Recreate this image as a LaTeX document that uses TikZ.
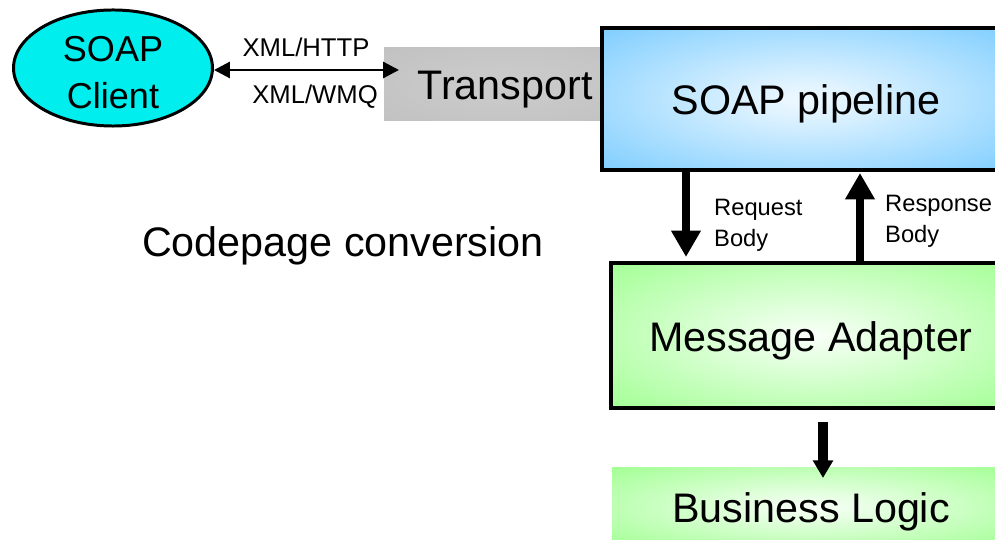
\documentclass[tikz,border=0pt]{standalone}
\usepackage{fontspec}
\setmainfont{Liberation Sans}
\usetikzlibrary{shapes.geometric,arrows.meta}

\definecolor{clientcyan}{RGB}{0,238,238}
\definecolor{pipeblue}{RGB}{112,200,255}
\definecolor{adaptgreen}{RGB}{152,255,136}
\definecolor{transgray}{RGB}{192,192,192}

\pgfdeclareradialshading{blueglow}{\pgfpointorigin}{color(0bp)=(white!88!pipeblue); color(6bp)=(white!78!pipeblue); color(40bp)=(pipeblue); color(50bp)=(pipeblue)}
\pgfdeclareradialshading{greenglow}{\pgfpointorigin}{color(0bp)=(white!95!adaptgreen); color(6bp)=(white!80!adaptgreen); color(40bp)=(adaptgreen); color(50bp)=(adaptgreen)}
\pgfdeclareradialshading{grayglow}{\pgfpointorigin}{color(0bp)=(white!20!transgray); color(40bp)=(transgray); color(50bp)=(transgray)}

\tikzset{
	big/.style={font=\fontsize{23.5}{28}\selectfont, text height=23pt, text depth=5pt},
	small/.style={font=\fontsize{13.5}{17.6}\selectfont, align=left},
	proto/.style={font=\fontsize{14.6}{17.6}\selectfont},
	box/.style={rectangle, draw=black, line width=2.3pt, inner sep=0pt},
	dblarrow/.style={line width=1.7pt, {Triangle[length=9pt,width=9pt]}-{Triangle[length=9pt,width=9pt]}},
	fatarrow/.style={line width=5.1pt, -{Triangle[length=15pt,width=16pt]}},
	slimarrow/.style={line width=5.6pt, -{Triangle[length=10pt,width=11pt]}},
}

\begin{document}
\begin{tikzpicture}[x=0.02cm,y=-0.02cm]
	\useasboundingbox (0,0) rectangle (995,540);
	%%%% Client
	\node[ellipse, draw=black, line width=1.7pt, fill=clientcyan, minimum width=3.98cm, minimum height=2.2cm, inner sep=0pt, align=center, font=\fontsize{20.5}{27}\selectfont] (client) at (113,68) {\rule{0pt}{19.5pt}SOAP\\Client};
	%%%% Transport
	\node[rectangle, shading=grayglow, minimum width=4.84cm, minimum height=1.48cm, inner sep=0pt, big] (transport) at (505,84) {Transport};
	% Pfeil Client - Transport
	\coordinate (xmlend) at (399,70);
	\draw[dblarrow] (client.east |- xmlend) -- (xmlend);
	\node[proto] (http) at (306,47) {XML/HTTP};
	\node[proto] (wmq) at (315,97) {XML/WMQ};
	%%%% SOAP pipeline
	\node[box, shading=blueglow, minimum width=8.16cm, minimum height=2.84cm, big] (pipeline) at (806,99) {SOAP pipeline};
	%%%% Message Adapter
	\node[box, shading=greenglow, minimum width=8cm, minimum height=2.9cm, big] (adapter) at (811,335.5) {Message Adapter};
	%%%% Business Logic
	\node[rectangle, shading=greenglow, minimum width=7.96cm, minimum height=1.58cm, inner sep=0pt, big] (business) at (811,506.5) {Business Logic};
	% Request / Response
	\coordinate (reqend) at (686,257);
	\coordinate (resend) at (860,173);
	\draw[fatarrow] (pipeline.south -| reqend) -- (reqend);
	\draw[fatarrow] (adapter.north -| resend) -- (resend);
	\node[small, anchor=west] (reqlbl) at (708,225) {Request\\Body};
	\node[small, anchor=west] (reslbl) at (879,221) {Response\\Body};
	% Adapter - Business Logic
	\coordinate (blend) at (823,478);
	\draw[slimarrow, shorten <=6.8pt] (adapter.south -| blend) -- (blend);
	%%%% Codepage
	\node[big] (codepage) at (343,241) {Codepage conversion};
\end{tikzpicture}
\end{document}
